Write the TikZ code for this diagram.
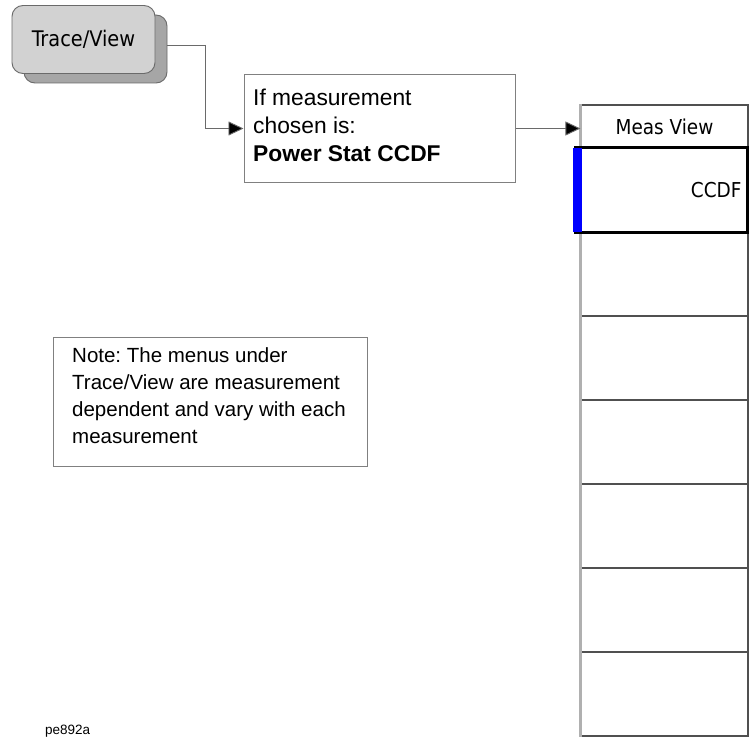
\documentclass[tikz,border=0pt]{standalone}
\usepackage{fontspec}
\setmainfont{Liberation Sans}
\newfontfamily\hpfont{DejaVu Sans Condensed}
\usetikzlibrary{arrows.meta}
\frenchspacing
\definecolor{btnfill}{HTML}{D2D2D2}
\definecolor{btnshadow}{HTML}{A6A6A6}
\definecolor{edgegray}{HTML}{6A6A6A}
\definecolor{boxgray}{HTML}{808080}
\definecolor{paneldark}{HTML}{505050}
\definecolor{panellight}{HTML}{B0B0B0}
\definecolor{keyblue}{HTML}{0000FF}
\tikzset{
  btn/.style={draw=edgegray, line width=0.9pt, rounded corners=11pt, minimum width=143pt, minimum height=68pt, inner sep=0pt, font=\hpfont\fontsize{21.5}{24}\selectfont},
  btnsh/.style={draw=edgegray, line width=0.9pt, fill=btnshadow, rounded corners=11pt, minimum width=143pt, minimum height=68pt, inner sep=0pt},
  infobox/.style={draw=boxgray, line width=1pt, fill=white, inner sep=0pt},
  conn/.style={draw=edgegray, line width=0.9pt},
  tip/.style={-{Triangle[length=15pt,width=14pt,fill=black]}},
  row/.style={draw=paneldark, line width=1.2pt, minimum width=167pt, minimum height=84pt, inner sep=0pt},
  keytxt/.style={font=\hpfont\fontsize{20.5}{24}\selectfont},
  txt/.style={font=\fontsize{20.5}{27}\selectfont, align=left, inner sep=0pt},
  bigtxt/.style={font=\fontsize{22.8}{28}\selectfont, align=left, inner sep=0pt}
}
\begin{document}
\begin{tikzpicture}[x=1pt,y=-1pt]
\useasboundingbox[fill=white] (0,0) rectangle (751,738);
% Trace/View button
\node[btnsh] (tvs) at (95.5,49) {};
\node[btn, fill=btnfill] (tv) at (83.5,39.5) {Trace/View};
% info box
\node[infobox, minimum width=271pt, minimum height=107pt] (b1) at (379.5,128.5) {};
\node[bigtxt, anchor=west] (b1t) at (253,125) {If measurement\\chosen is:\\\textbf{Power Stat CCDF}};
% note box
\node[infobox, minimum width=314pt, minimum height=129pt] (note) at (210,401.5) {};
\node[txt, anchor=west] (notet) at (72,396) {Note: The menus under\\Trace/View are measurement\\dependent and vary with each\\measurement};
% menu panel
\node[row, minimum height=43pt, keytxt] (mv) at (664.5,126.5) {Meas View};
\node[row] (r1) at (664.5,274) {};
\node[row] (r2) at (664.5,358) {};
\node[row] (r3) at (664.5,442) {};
\node[row] (r4) at (664.5,526) {};
\node[row] (r5) at (664.5,610) {};
\node[row] (r6) at (664.5,694) {};
\draw[panellight, line width=2.5pt] (mv.north west) -- (r6.south west);
% CCDF key
\node[draw=black, line width=3pt, fill=white, minimum width=172pt, minimum height=84pt, inner sep=0pt] (k1) at (661.5,190) {};
\fill[keyblue] ([xshift=-1.5pt,yshift=-1.5pt]k1.north west) rectangle ([xshift=8pt,yshift=1.5pt]k1.south west);
\node[keytxt, anchor=east] (k1t) at (745,190) {CCDF};
% connectors
\draw[conn] ([yshift=4pt]tvs.east) -- (205,45) coordinate (c1);
\draw[conn, tip] (c1) |- (b1.west);
\draw[conn, tip] (b1.east) -- (mv.west |- b1.east);
% label
\node[font=\fontsize{13.5}{16}\selectfont, anchor=west, inner sep=0pt] (lbl) at (45,731) {pe892a};
\end{tikzpicture}
\end{document}
